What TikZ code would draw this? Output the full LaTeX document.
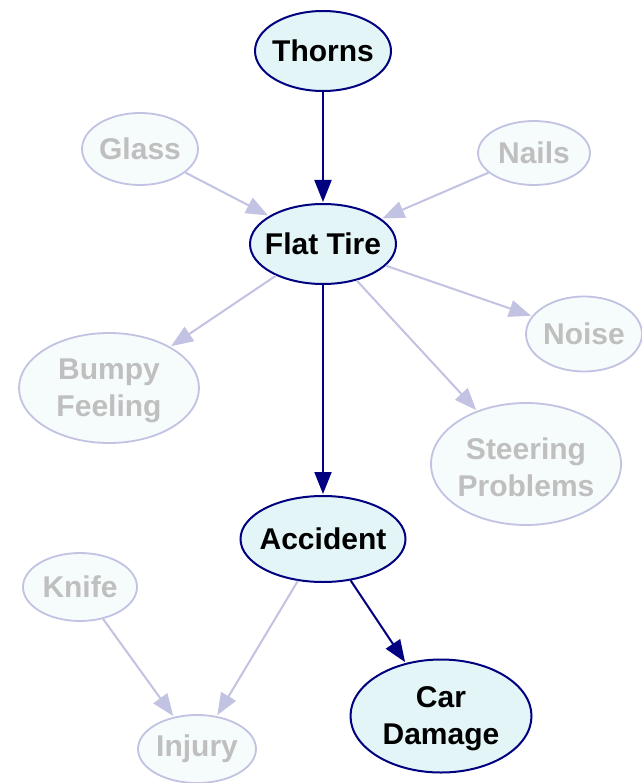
\documentclass[tikz,border=0pt]{standalone}
\usepackage{fontspec}
\setmainfont{Liberation Sans}
\usetikzlibrary{shapes.geometric,arrows.meta}
\definecolor{mainline}{HTML}{000080}
\definecolor{mainfill}{HTML}{E3F5F6}
\definecolor{dimline}{HTML}{C2C2E2}
\definecolor{dimfill}{HTML}{F6FBFC}
\definecolor{dimtext}{HTML}{BFBFBF}
% centred label of zero width, so the ellipse size is set by minimum width/height only
\newcommand{\ctext}[1]{\makebox[0pt]{\parbox[c]{200pt}{\centering #1}}}
% two-line label, set a little lower inside its ellipse (box size kept unchanged)
\newcommand{\ctwo}[1]{\raisebox{-3pt}[\height][\depth]{\ctext{#1}}}
\tikzset{
  x=1pt, y=-1pt,
  base/.style={ellipse, inner sep=0pt,
    font=\fontsize{30}{37}\selectfont\bfseries},
  mainnode/.style={base, draw=mainline, fill=mainfill, line width=2pt, text=black},
  dimnode/.style={base, draw=dimline, fill=dimfill, line width=1.8pt, text=dimtext},
  mainedge/.style={draw=mainline, line width=2pt,
    -{Triangle[length=22pt,width=17pt]}, shorten >=1pt},
  dimedge/.style={draw=dimline, line width=2pt,
    -{Triangle[length=22pt,width=17pt]}, shorten >=1pt},
}
\begin{document}
\begin{tikzpicture}
\useasboundingbox (0,0) rectangle (641,783);

% causal chain
\node[mainnode, minimum width=136pt, minimum height=80pt] (thorns) at (323,51) {\ctext{Thorns}};
\node[mainnode, minimum width=146pt, minimum height=80pt] (flat) at (323,244) {\ctext{Flat Tire}};
\node[mainnode, minimum width=165pt, minimum height=86pt] (accident) at (323,539) {\ctext{Accident}};
\node[mainnode, minimum width=181pt, minimum height=113pt] (damage) at (441,716) {\ctwo{Car\\Damage}};

% side causes and effects
\node[dimnode, minimum width=116pt, minimum height=72pt] (glass) at (140,149) {\ctext{Glass}};
\node[dimnode, minimum width=112pt, minimum height=64pt] (nails) at (534,153) {\ctext{Nails}};
\node[dimnode, minimum width=116pt, minimum height=75pt] (noise) at (584,334) {\ctext{Noise}};
\node[dimnode, minimum width=180pt, minimum height=110pt] (bumpy) at (109,388) {\ctwo{Bumpy\\Feeling}};
\node[dimnode, minimum width=190pt, minimum height=122pt] (steer) at (526,464) {\ctwo{Steering\\Problems}};
\node[dimnode, minimum width=114pt, minimum height=68pt] (knife) at (80,587) {\ctext{Knife}};
\node[dimnode, minimum width=118pt, minimum height=68pt] (injury) at (197,749) {\ctext{Injury}};

% faded connectors
\draw[dimedge] (glass) -- (flat);
\draw[dimedge] (nails) -- (flat);
\draw[dimedge] (flat) -- (bumpy);
\draw[dimedge] (flat) -- (noise);
\draw[dimedge] (flat) -- (steer);
\draw[dimedge] (accident) -- (injury);
\draw[dimedge] (knife) -- (injury);

% main connectors
\draw[mainedge] (thorns) -- (flat);
\draw[mainedge] (flat) -- (accident);
\draw[mainedge] (accident) -- (damage);
\end{tikzpicture}
\end{document}
